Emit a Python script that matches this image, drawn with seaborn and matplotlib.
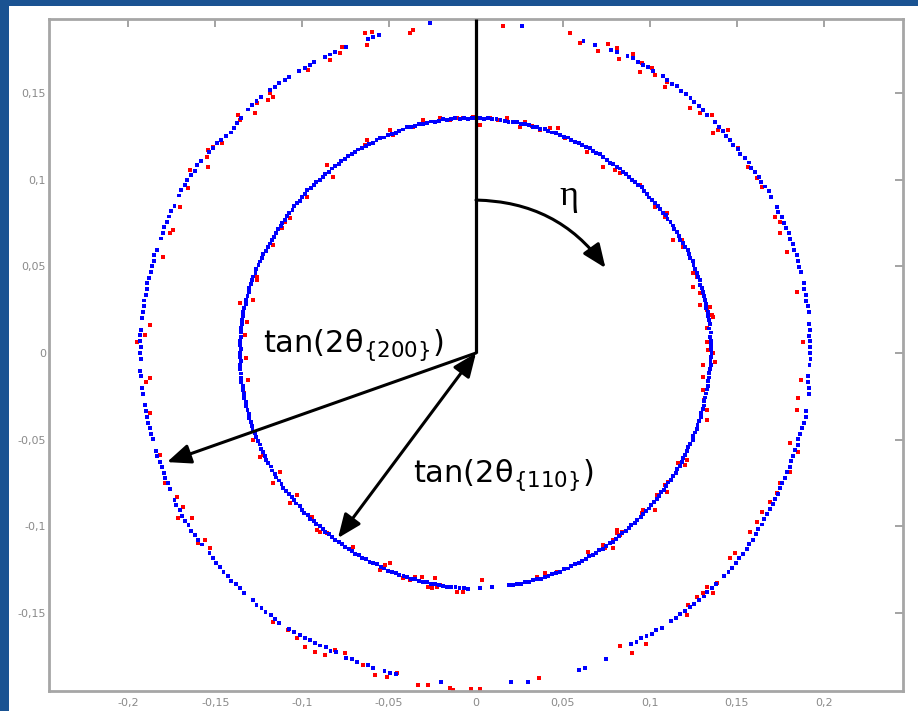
import numpy as np
import pandas as pd
import matplotlib
matplotlib.use("Agg")
import matplotlib.pyplot as plt
import seaborn as sns
from matplotlib.patches import FancyArrowPatch, Rectangle

# ---------------- data ----------------
# Blue rings: tan(2theta) radius (x1000) per 1-degree azimuthal (eta) bin, eta = bin index,
# measured clockwise from the vertical; 0 = no point in that bin.
blue_110_r = [
    135.5, 135.5, 135.0, 135.5, 135.0, 135.5, 135.0, 135.0, 134.5, 135.0,
    135.0, 134.5, 135.0, 135.0, 134.5, 135.0, 134.5, 135.0, 134.5, 134.5,
    135.0, 134.5, 134.5, 135.0, 134.5, 134.5, 135.0, 134.5, 134.5, 135.0,
    134.5, 134.5, 135.0, 134.5, 134.5, 134.0, 134.5, 134.5, 135.0, 134.5,
    134.5, 134.5, 134.0, 134.5, 134.5, 135.0, 134.5, 134.5, 134.0, 134.5,
    134.5, 135.0, 134.5, 134.5, 135.0, 134.5, 135.0, 135.0, 134.5, 135.0,
    135.0, 134.5, 135.0, 135.0, 135.5, 135.0, 135.0, 135.5, 135.0, 135.0,
    135.5, 135.0, 135.5, 135.0, 135.5, 135.5, 135.0, 135.5, 135.5, 135.0,
    135.5, 135.0, 135.5, 135.5, 135.0, 135.5, 135.0, 135.5, 135.5, 135.0,
    135.5, 135.0, 135.0, 135.5, 135.0, 134.5, 135.0, 134.5, 135.0, 134.5,
    134.5, 134.5, 134.0, 134.5, 134.5, 134.0, 134.5, 134.0, 134.0, 134.5,
    134.0, 134.0, 134.5, 134.0, 133.5, 134.0, 134.0, 133.5, 134.0, 134.0,
    133.5, 134.0, 133.5, 134.0, 133.5, 133.5, 134.0, 133.5, 133.5, 134.0,
    133.5, 133.5, 134.0, 133.5, 133.5, 134.0, 133.5, 134.0, 133.5, 134.0,
    134.0, 133.5, 134.0, 134.0, 134.5, 134.0, 134.0, 134.5, 134.0, 134.5,
    134.5, 134.0, 134.5, 134.5, 135.0, 134.5, 134.5, 135.0, 134.5, 135.0,
    135.0, 134.5, 135.0, 135.0, 135.5, 135.0, 135.0, 135.5, 135.0, 135.5,
    135.0, 135.5, 135.0, 0, 0, 0, 135.5, 0, 0, 135.5,
    0, 0, 136.0, 135.5, 136.0, 135.5, 135.5, 136.0, 135.5, 135.5,
    135.5, 135.5, 135.0, 135.5, 135.5, 135.0, 135.5, 135.0, 135.0, 135.5,
    135.0, 135.0, 135.5, 135.0, 135.0, 134.5, 135.0, 135.0, 134.5, 135.0,
    134.5, 135.0, 134.5, 134.5, 135.0, 134.5, 134.5, 135.0, 134.5, 134.5,
    135.0, 134.5, 134.5, 135.0, 134.5, 135.0, 134.5, 135.0, 135.0, 134.5,
    135.0, 135.0, 134.5, 135.0, 135.0, 135.5, 135.0, 135.0, 135.5, 135.0,
    135.5, 135.0, 135.5, 135.5, 135.0, 135.5, 135.5, 135.0, 135.5, 135.5,
    135.5, 136.0, 135.5, 135.5, 136.0, 135.5, 135.5, 136.0, 135.5, 136.0,
    135.5, 136.0, 135.5, 136.0, 136.0, 135.5, 136.0, 136.0, 135.5, 136.0,
    136.0, 135.5, 136.0, 136.0, 135.5, 136.0, 136.0, 135.5, 136.0, 135.5,
    136.0, 136.0, 135.5, 136.0, 135.5, 135.5, 136.0, 135.5, 135.5, 135.5,
    135.0, 135.5, 135.0, 135.0, 134.5, 135.0, 134.5, 134.5, 134.5, 134.5,
    134.0, 134.5, 134.5, 134.0, 134.5, 134.0, 134.5, 134.5, 134.0, 134.5,
    134.5, 134.0, 134.5, 134.5, 135.0, 134.5, 134.5, 135.0, 134.5, 134.5,
    135.0, 134.5, 135.0, 135.0, 134.5, 135.0, 135.0, 135.5, 135.0, 135.0,
    135.5, 135.0, 135.0, 135.5, 135.0, 135.5, 135.5, 135.0, 135.5, 135.5,
    135.0, 135.5, 135.5, 136.0, 135.5, 135.5, 136.0, 135.5, 135.5, 136.0,
    135.5, 135.5, 136.0, 135.5, 135.5, 136.0, 135.5, 135.5, 135.0, 135.5,
]
blue_200_r = [
    0, 0, 0, 0, 0, 0, 0, 0, 190.5, 0,
    0, 0, 0, 0, 0, 0, 0, 0, 0, 190.0,
    0, 190.5, 0, 0, 191.0, 191.5, 0, 192.0, 192.5, 192.0,
    192.0, 192.5, 192.0, 0, 192.5, 192.0, 192.0, 192.5, 192.0, 192.0,
    192.0, 191.5, 192.0, 191.5, 191.0, 0, 191.5, 191.0, 191.0, 190.5,
    191.0, 190.5, 191.0, 190.5, 191.0, 191.5, 191.0, 191.5, 192.0, 191.5,
    192.0, 192.5, 192.0, 0, 192.5, 192.0, 193.0, 192.5, 192.5, 193.0,
    192.5, 193.0, 192.5, 193.0, 193.0, 192.5, 193.0, 0, 193.0, 192.5,
    193.0, 192.5, 193.0, 193.0, 0, 192.5, 192.5, 192.0, 192.5, 192.0,
    192.0, 192.5, 192.0, 0, 191.5, 192.0, 192.5, 193.0, 0, 0,
    193.0, 193.5, 193.0, 192.5, 192.0, 192.0, 192.5, 192.0, 192.0, 191.5,
    192.0, 191.5, 192.0, 191.5, 191.5, 192.0, 191.5, 192.0, 191.5, 191.5,
    191.5, 192.0, 191.5, 192.0, 192.5, 192.0, 192.5, 192.5, 192.0, 192.5,
    192.5, 192.5, 192.0, 0, 192.0, 192.0, 191.5, 192.0, 192.0, 191.5,
    191.5, 191.5, 191.0, 191.5, 191.0, 0, 191.0, 190.5, 191.0, 190.5,
    190.0, 190.5, 190.0, 0, 0, 0, 0, 191.5, 0, 0,
    0, 192.0, 192.0, 0, 0, 0, 0, 0, 0, 0,
    0, 192.0, 0, 0, 191.0, 0, 0, 0, 0, 0,
    0, 0, 0, 0, 0, 0, 191.0, 0, 0, 0,
    0, 0, 0, 0, 191.0, 191.0, 191.0, 0, 191.0, 190.5,
    0, 191.0, 190.5, 191.0, 0, 190.5, 191.0, 190.5, 191.0, 191.0,
    191.0, 191.5, 191.5, 192.0, 192.0, 0, 192.5, 192.0, 192.0, 192.5,
    192.0, 192.5, 192.0, 0, 192.5, 192.0, 192.0, 192.5, 192.0, 192.5,
    192.0, 192.5, 192.0, 192.0, 0, 192.5, 193.0, 193.0, 193.5, 193.0,
    193.5, 193.5, 193.0, 193.5, 193.0, 0, 193.0, 192.5, 193.0, 192.5,
    192.5, 192.5, 193.0, 192.5, 0, 192.5, 193.0, 192.5, 193.0, 193.0,
    193.0, 193.0, 0, 193.0, 193.0, 0, 193.0, 193.5, 0, 193.0,
    193.5, 193.0, 193.5, 193.5, 193.0, 0, 193.5, 193.0, 193.0, 193.5,
    193.0, 193.0, 193.5, 193.0, 193.0, 193.0, 193.0, 193.5, 193.0, 0,
    193.0, 193.0, 193.5, 193.0, 193.5, 193.5, 193.0, 0, 193.5, 194.0,
    193.5, 194.0, 193.5, 193.0, 193.5, 193.0, 0, 192.5, 192.0, 192.0,
    191.5, 190.5, 190.0, 190.5, 191.0, 191.5, 0, 192.0, 192.5, 192.5,
    192.5, 0, 192.5, 192.0, 192.5, 192.0, 192.0, 0, 192.0, 191.5,
    191.5, 192.0, 0, 191.5, 191.5, 191.5, 0, 191.5, 0, 0,
    0, 191.5, 191.5, 191.5, 0, 0, 0, 0, 0, 0,
    0, 0, 192.0, 0, 0, 0, 0, 0, 0, 0,
]

# Red points (x, y)
red_110_pts = [
    (-0.0639, 0.1200), (-0.0627, 0.1228), (-0.0478, 0.1257), (-0.0495, 0.1286),
    (-0.0362, 0.1303), (-0.0305, 0.1344), (-0.0207, 0.1355), (-0.0150, 0.1344),
    (-0.0109, 0.1355), (-0.0823, 0.1015), (-0.0857, 0.1084), (-0.0972, 0.0900),
    (-0.1070, 0.0779), (-0.1100, 0.0755), (-0.1116, 0.0721), (-0.1168, 0.0623),
    (-0.1260, 0.0438), (-0.1260, 0.0421), (-0.1283, 0.0306), (-0.1358, 0.0288),
    (-0.1318, 0.0179), (-0.1329, 0.0104), (-0.1323, -0.0029), (-0.1312, -0.0156),
    (-0.1335, -0.0231), (-0.1283, -0.0502), (-0.1243, -0.0600), (-0.1226, -0.0588),
    (-0.1128, -0.0686), (-0.1168, -0.0750), (-0.1070, -0.0865), (-0.1030, -0.0819),
    (-0.0915, -0.1020), (-0.0898, -0.1032), (-0.0857, -0.1038), (-0.0944, -0.0946),
    (-0.0708, -0.1119), (-0.0552, -0.1251), (-0.0524, -0.1223), (-0.0495, -0.1211),
    (-0.0420, -0.1298), (-0.0380, -0.1309), (-0.0351, -0.1292), (-0.0311, -0.1292),
    (-0.0276, -0.1350), (-0.0253, -0.1355), (-0.0224, -0.1350), (-0.0207, -0.1338),
    (-0.0236, -0.1298), (-0.0109, -0.1378), (-0.0075, -0.1378), (0.0035, -0.1309),
    (0.0351, -0.1292), (0.0397, -0.1269), (0.0466, -0.1263), (0.0644, -0.1148),
    (0.0731, -0.1107), (0.0788, -0.1125), (0.0811, -0.1038), (0.0840, -0.1032),
    (0.1289, 0.0277), (0.1346, 0.0265), (0.1364, 0.0208), (0.1329, 0.0144),
    (0.1346, 0.0092), (0.1329, 0.0063), (0.1335, 0.0017), (0.1364, 0.0000),
    (0.1375, -0.0052), (0.1306, -0.0069), (0.1306, -0.0138), (0.1306, -0.0213),
    (0.1312, -0.0271), (0.1329, -0.0329), (0.1329, -0.0386), (0.1162, -0.0634),
    (0.1203, -0.0646), (0.1214, -0.0617), (0.1105, -0.0744), (0.1087, -0.0761),
    (0.1099, -0.0802), (0.1041, -0.0819), (0.1030, -0.0905), (0.0961, -0.0905),
    (0.0955, -0.0923), (0.0811, -0.1020), (0.0829, -0.1050), (0.0788, -0.1078),
    (0.0742, -0.1125), (-0.0075, 0.1355), (-0.0017, 0.1361), (0.0023, 0.1315),
    (0.0081, 0.1355), (0.0127, 0.1344), (0.0178, 0.1355), (0.0253, 0.1303),
    (0.0282, 0.1332), (0.0322, 0.1309), (0.0368, 0.1286), (0.0426, 0.1298),
    (0.0472, 0.1298), (0.0512, 0.1240), (0.0639, 0.1159), (0.0731, 0.1130),
    (0.0731, 0.1073), (0.0800, 0.1055), (0.0829, 0.1038), (0.0944, 0.0969),
    (0.1030, 0.0842), (0.1099, 0.0807), (0.1087, 0.0784), (0.1133, 0.0652),
    (0.1185, 0.0652), (0.1191, 0.0611), (0.1249, 0.0461), (0.1272, 0.0438),
    (0.1249, 0.0381), (0.1289, 0.0346), (0.1329, 0.0248), (0.1358, 0.0219),
]
red_200_pts = [
    (0.0155, 0.1886), (0.0213, 0.1932), (0.0541, 0.1845), (0.0598, 0.1788),
    (0.0702, 0.1742), (0.0759, 0.1782), (0.0811, 0.1759), (0.0823, 0.1696),
    (0.0903, 0.1724), (0.0955, 0.1672), (0.0944, 0.1621), (0.1013, 0.1644),
    (0.1030, 0.1603), (0.1099, 0.1563), (0.1087, 0.1534), (0.1231, 0.1413),
    (0.1289, 0.1384), (0.1358, 0.1373), (0.1375, 0.1332), (0.1364, 0.1269),
    (0.1392, 0.1286), (0.1450, 0.1286), (0.1507, 0.1182), (0.1565, 0.1073),
    (0.1617, 0.1009), (0.1646, 0.0957), (0.1720, 0.0784), (0.1749, 0.0755),
    (0.1749, 0.0692), (0.1789, 0.0582), (0.1847, 0.0352), (0.1881, 0.0063),
    (0.1870, -0.0156), (0.1853, -0.0260), (0.1847, -0.0329), (0.1807, -0.0519),
    (0.1853, -0.0571), (0.1807, -0.0686), (0.1749, -0.0750), (0.1732, -0.0807),
    (0.1692, -0.0859), (0.1646, -0.0917), (0.1617, -0.0975), (0.1577, -0.1032),
    (0.1490, -0.1153), (0.1461, -0.1182), (0.1387, -0.1326), (0.1364, -0.1384),
    (0.1329, -0.1350), (0.1306, -0.1384), (0.1272, -0.1407), (0.1220, -0.1453),
    (0.1214, -0.1511), (0.0829, -0.1690), (0.0898, -0.1730), (0.0978, -0.1678),
    (0.0362, -0.1874), (0.0023, -0.1938), (-0.0029, -0.1938), (-0.0334, -0.1915),
    (-0.0276, -0.1915), (-0.0150, -0.1932), (-0.0132, -0.1943), (-0.0455, -0.1845),
    (-0.0512, -0.1869), (-0.0581, -0.1857), (-0.0650, -0.1800), (-0.0754, -0.1730),
    (-0.0811, -0.1713), (-0.0869, -0.1742), (-0.0926, -0.1724), (-0.0984, -0.1696),
    (-0.1030, -0.1644), (-0.1082, -0.1597), (-0.1168, -0.1551), (-0.1904, 0.0104),
    (-0.1876, -0.0144), (-0.1899, -0.0167), (-0.1876, -0.0346), (-0.1818, -0.0588),
    (-0.1789, -0.0750), (-0.1720, -0.0830), (-0.1686, -0.0888), (-0.1715, -0.0952),
    (-0.1634, -0.0952), (-0.1600, -0.1096), (-0.1559, -0.1078), (-0.1530, -0.1125),
    (-0.0639, 0.1845), (-0.0598, 0.1851), (-0.0627, 0.1776), (-0.0362, 0.1863),
    (-0.0380, 0.1845), (-0.0783, 0.1730), (-0.0771, 0.1765), (-0.0840, 0.1690),
    (-0.0967, 0.1632), (-0.1185, 0.1499), (-0.1168, 0.1476), (-0.1197, 0.1459),
    (-0.1260, 0.1442), (-0.1272, 0.1384), (-0.1369, 0.1373), (-0.1358, 0.1344),
    (-0.1375, 0.1326), (-0.1513, 0.1188), (-0.1542, 0.1171), (-0.1461, 0.1211),
    (-0.1548, 0.1130), (-0.1646, 0.1055), (-0.1542, 0.1073), (-0.1657, 0.0952),
    (-0.1703, 0.0842), (-0.1761, 0.0692), (-0.1743, 0.0709), (-0.1801, 0.0554),
    (-0.1876, 0.0161), (-0.1951, 0.0063),
]

x_ticks = [-0.2, -0.15, -0.1, -0.05, 0, 0.05, 0.1, 0.15, 0.2]
x_tick_labels = ["-0,2", "-0,15", "-0,1", "-0,05", "0", "0,05", "0,1", "0,15", "0,2"]
y_ticks = [-0.15, -0.1, -0.05, 0, 0.05, 0.1, 0.15]
y_tick_labels = ["-0,15", "-0,1", "-0,05", "0", "0,05", "0,1", "0,15"]
x_limits = (-0.2457, 0.2457)
y_limits = (-0.1949, 0.1926)

label_200 = r"tan(2$\mathrm{\theta}_{\{200\}}$)"
label_110 = r"tan(2$\mathrm{\theta}_{\{110\}}$)"
label_eta = "η"

# ---------------- build table ----------------
def ring_frame(r_list, name):
    r = np.asarray(r_list, dtype=float) / 1000.0
    eta = np.radians(np.arange(r.size))
    keep = r > 0
    return pd.DataFrame({"x": r[keep] * np.sin(eta[keep]),
                         "y": r[keep] * np.cos(eta[keep]),
                         "series": name})

def pts_frame(pts, name):
    a = np.asarray(pts, dtype=float)
    return pd.DataFrame({"x": a[:, 0], "y": a[:, 1], "series": name})

df = pd.concat([pts_frame(red_110_pts, "red"), pts_frame(red_200_pts, "red"),
                ring_frame(blue_110_r, "blue"), ring_frame(blue_200_r, "blue")],
               ignore_index=True)

# ---------------- figure ----------------
sns.set_style("white")
plt.rcParams["font.family"] = ["DejaVu Sans"]
plt.rcParams["mathtext.fontset"] = "dejavusans"

fig = plt.figure(figsize=(9.18, 7.11), dpi=100, facecolor="#1a5392")
fig.add_artist(Rectangle((9 / 918, 0), 1 - 9 / 918, 705 / 711,
                         transform=fig.transFigure, facecolor="white",
                         edgecolor="none", zorder=-10))
ax = fig.add_axes([49 / 918, 20 / 711, 854 / 918, 672 / 711])
ax.set_facecolor("white")

sns.scatterplot(data=df, x="x", y="y", hue="series",
                palette={"red": "#ff0000", "blue": "#0000ff"},
                marker="s", s=8, linewidth=0, legend=False, ax=ax, zorder=2)

ax.set_xlim(*x_limits)
ax.set_ylim(*y_limits)
ax.set_xticks(x_ticks)
ax.set_xticklabels(x_tick_labels)
ax.set_yticks(y_ticks)
ax.set_yticklabels(y_tick_labels)
ax.set_xlabel("")
ax.set_ylabel("")
ax.tick_params(axis="both", direction="in", length=6, width=1.3, color="#9c9c9c",
               labelsize=8, labelcolor="#8a8a8a", top=True, right=True)
ax.tick_params(axis="x", pad=5)
ax.tick_params(axis="y", pad=2)
for sp in ax.spines.values():
    sp.set_color("#a6a6a6")
    sp.set_linewidth(2.0)

# ---------------- annotations ----------------
ymin_frac = (0 - y_limits[0]) / (y_limits[1] - y_limits[0])
ax.axvline(0, ymin=ymin_frac, ymax=1, color="black", lw=2.3, zorder=4,
           solid_capstyle="butt")

arc = FancyArrowPatch(posA=(0, 0.0882), posB=(0.0745, 0.0490),
                      connectionstyle="arc3,rad=-0.25",
                      arrowstyle="-|>,head_length=0.6,head_width=0.25",
                      mutation_scale=24, lw=2.2, color="black",
                      shrinkA=0, shrinkB=0, zorder=5)
ax.add_patch(arc)

ax.annotate("", xy=(-0.1778, -0.0629), xytext=(0, 0),
            arrowprops=dict(arrowstyle="-|>,head_length=0.6,head_width=0.25",
                            mutation_scale=24, lw=2.2, color="black",
                            shrinkA=0, shrinkB=0), zorder=5)
ax.annotate("", xy=(-0.0794, -0.1067), xytext=(0, 0),
            arrowprops=dict(arrowstyle="<|-|>,head_length=0.6,head_width=0.25",
                            mutation_scale=24, lw=2.2, color="black",
                            shrinkA=0, shrinkB=0), zorder=5)

ax.text(-0.1226, 0.0006, label_200, fontsize=22, ha="left", va="baseline",
        color="black", zorder=6)
ax.text(-0.0362, -0.0744, label_110, fontsize=22, ha="left", va="baseline",
        color="black", zorder=6)
ax.text(0.0535, 0.0900, label_eta, fontsize=26, family=["Liberation Serif", "DejaVu Serif"],
        ha="center", va="center", color="black", zorder=6)

fig.savefig("out.png", dpi=100, facecolor=fig.get_facecolor())
